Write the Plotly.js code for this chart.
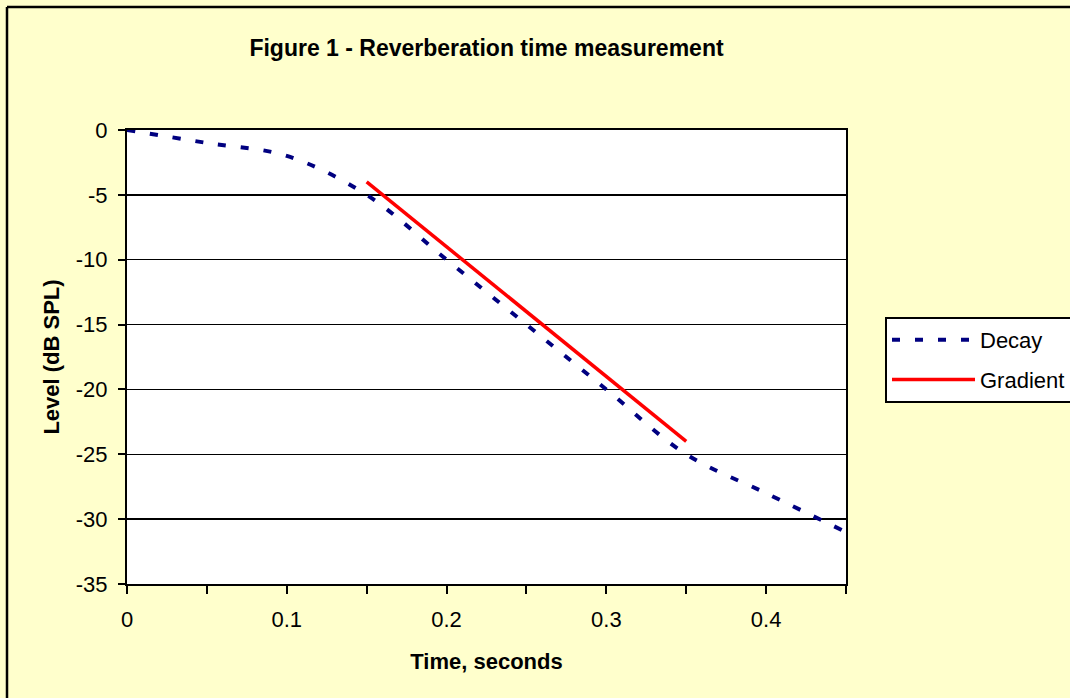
<!DOCTYPE html>
<html>
<head>
<meta charset="utf-8">
<script src="https://cdn.plot.ly/plotly-3.0.1.min.js"></script>
<style>
  html, body { margin: 0; padding: 0; background: #FFFFCC; overflow: hidden; width: 1070px; height: 698px; }
  #chart { width: 1070px; height: 698px; overflow: hidden; }
</style>
</head>
<body>
<div id="chart"></div>
<script>
// Data
const decayTime = [0, 0.05, 0.1, 0.15, 0.2, 0.25, 0.3, 0.35, 0.4, 0.45];
const decayLevel = [0, -1, -2, -5, -10, -15, -20, -25, -28, -31];
const gradientTime = [0.15, 0.35];
const gradientLevel = [-4, -24];
const xTickVals = [0, 0.05, 0.1, 0.15, 0.2, 0.25, 0.3, 0.35, 0.4, 0.45];
const xTickText = ['0', '', '0.1', '', '0.2', '', '0.3', '', '0.4', ''];
const yTickVals = [0, -5, -10, -15, -20, -25, -30, -35];
const yTickText = ['0', '-5', '-10', '-15', '-20', '-25', '-30', '-35'];

const FONT = 'Arial, "Liberation Sans", sans-serif';

const traces = [
  {
    x: decayTime, y: decayLevel, name: 'Decay', type: 'scatter', mode: 'lines',
    line: { color: '#000080', width: 4, dash: '8px,15px', shape: 'spline', smoothing: 1 },
    legendgroup: 'a'
  },
  {
    x: gradientTime, y: gradientLevel, name: 'Gradient', type: 'scatter', mode: 'lines',
    line: { color: '#FF0000', width: 3.5 },
    legendgroup: 'b'
  }
];

const L = 127, R = 846, T = 130, B = 584;
const PW = R - L, PH = B - T;

const layout = {
  width: 1070, height: 698,
  paper_bgcolor: '#FFFFCC',
  plot_bgcolor: '#FFFFFF',
  margin: { l: L, r: 1070 - R, t: T, b: 698 - B, pad: 0, autoexpand: false },
  font: { family: FONT, size: 22, color: '#000000' },
  title: {
    text: '<b>Figure 1 - Reverberation time measurement</b>',
    font: { family: FONT, size: 23, color: '#000000' },
    x: 0.5, xref: 'paper', y: 1 - 48 / 698, yref: 'container', yanchor: 'middle'
  },
  xaxis: {
    range: [0, 0.45], tickmode: 'array', tickvals: xTickVals, ticktext: xTickText,
    ticks: 'outside', ticklen: 8, tickwidth: 2, tickcolor: '#000000',
    showline: true, linecolor: '#000000', linewidth: 2, mirror: true,
    showgrid: false, zeroline: false,
    ticklabelstandoff: 7,
    tickfont: { family: FONT, size: 22, color: '#000000' },
    title: { text: '<b>Time, seconds</b>', font: { family: FONT, size: 22, color: '#000000' }, standoff: 22 }
  },
  yaxis: {
    range: [-35, 0], tickmode: 'array', tickvals: yTickVals, ticktext: yTickText,
    ticks: 'outside', ticklen: 7, tickwidth: 2, tickcolor: '#000000',
    showline: true, linecolor: '#000000', linewidth: 2, mirror: true,
    showgrid: true, gridcolor: '#000000', gridwidth: 1.5, zeroline: false,
    ticklabelstandoff: 6,
    tickfont: { family: FONT, size: 22, color: '#000000' },
    title: { text: '<b>Level (dB SPL)</b>', font: { family: FONT, size: 22, color: '#000000' }, standoff: 10 }
  },
  showlegend: true,
  legend: {
    x: (885 - L) / PW, xanchor: 'left',
    y: (B - 317) / PH, yanchor: 'top',
    bgcolor: '#FFFFFF', bordercolor: '#000000', borderwidth: 2,
    font: { family: FONT, size: 22, color: '#000000' },
    itemwidth: 83, tracegroupgap: 8, traceorder: 'grouped'
  },
  shapes: [
    {
      type: 'line', xref: 'paper', yref: 'paper',
      x0: (7 - L) / PW, x1: (7 - L) / PW, y0: (B - 720) / PH, y1: (B - 7) / PH,
      line: { color: '#000000', width: 2.5 }, layer: 'above'
    },
    {
      type: 'line', xref: 'paper', yref: 'paper',
      x0: (7 - L) / PW, x1: (1090 - L) / PW, y0: (B - 7) / PH, y1: (B - 7) / PH,
      line: { color: '#000000', width: 2.5 }, layer: 'above'
    }
  ]
};

Plotly.newPlot('chart', traces, layout, { displayModeBar: false, staticPlot: true });
</script>
</body>
</html>
